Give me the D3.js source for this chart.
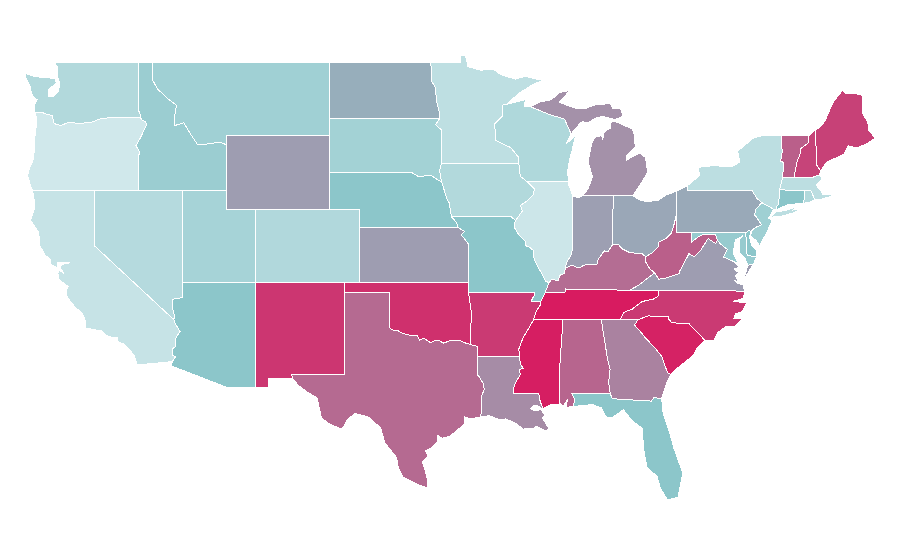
<!DOCTYPE html>
<html><head><meta charset="utf-8"><title>US states choropleth</title>
<script src="https://cdnjs.cloudflare.com/ajax/libs/d3/7.8.5/d3.min.js"></script>
<style>html,body{margin:0;padding:0;background:#fff}svg{display:block}</style></head>
<body><svg id="map" width="900" height="560"></svg>
<script>
// Estimated state values read from the fill colours
const stateNames = ["OR","IL","CA","MN","NY","MA","NV","WA","IA","RI","CO","WI","UT","SD","MT","NJ","ID","MD","AZ","NE","MO","FL","CT","DE","ND","PA","OH","IN","WY","KS","VA","MI","LA","GA","KY","TX","AL","WV","VT","NH","ME","AR","NC","NM","OK","SC","MS","TN"];
const stateValues = [0,3,7,13,15,15,20,22,22,22,23,24,31,33,35,36,39,42,50,50,50,50,50,50,57,58.5,59,61.5,62,62,62,65.5,67,70,76,77,78.5,80,80,88,89,91,91,92,94,98,99,100];
const colorDomain = [0,50,100];
const colorRange = ["#d0e8eb","#8cc6ca","#d81b60"];
const lonDomain = [-124.73,-66.97];
const latDomain = [49,25.12];

// Shared boundary lines, lon,lat
const B = {
wa_can:"-122.76,49 -117.04,49",
wa_id:"-117.04,49 -117.04,46.42 -116.92,46.17 -116.92,46",
wa_coast:"-122.76,49 -122.5,48.7 -122.55,48.4 -122.5,48.15 -122.35,47.75 -122.5,47.37 -122.85,47.1 -123.15,47.1 -123.15,47.5 -122.6,47.85 -122.7,48.1 -123.2,48.15 -124.05,48.2 -124.72,48.38 -124.64,48.05 -124.4,47.75 -124.3,47.35 -124.15,47.1 -123.9,46.95 -124.07,46.7 -124.05,46.27",
wa_or:"-124.05,46.27 -123.55,46.26 -123.4,46.2 -123.2,46.15 -122.9,46.1 -122.8,45.85 -122.75,45.65 -122.3,45.55 -121.9,45.68 -121.5,45.72 -121.2,45.65 -120.9,45.65 -120.5,45.72 -120.2,45.73 -119.6,45.92 -119.3,45.93 -119,46 -116.92,46",
or_id:"-116.92,46 -116.78,45.85 -116.55,45.75 -116.46,45.6 -116.68,45.24 -116.85,44.95 -117.2,44.45 -117.03,44.25 -116.95,44.1 -117.03,43.83 -117.03,42",
or_coast:"-124.05,46.27 -123.95,46 -123.97,45.5 -124.05,45 -124.07,44.6 -124.12,44 -124.2,43.6 -124.4,43.3 -124.55,42.84 -124.4,42.4 -124.22,42",
or_ca:"-124.22,42 -120,42",
or_nv:"-120,42 -117.03,42",
ca_coast:"-124.22,42 -124.1,41.5 -124.07,41.1 -124.35,40.4 -124.1,40.1 -123.8,39.75 -123.72,39 -123.35,38.5 -122.98,38.25 -123,38 -122.5,37.82 -122.5,38.12 -122,38.12 -121.7,38.08 -122.2,38 -122.35,37.85 -122.1,37.5 -122.4,37.7 -122.5,37.5 -122.4,37.15 -122.05,36.95 -121.8,36.8 -121.95,36.55 -121.85,36.2 -121.3,35.65 -120.85,35.35 -120.63,34.95 -120.62,34.55 -120.15,34.47 -119.5,34.38 -119.2,34.15 -118.8,34.02 -118.45,34 -118.4,33.75 -118.1,33.72 -117.85,33.55 -117.3,33.05 -117.13,32.53",
ca_nv:"-120,42 -120,39 -114.63,35",
nv_az:"-114.63,35 -114.57,35.2 -114.68,35.5 -114.72,36 -114.74,36.1 -114.4,36.15 -114.05,36.2 -114.05,37",
ca_az:"-114.63,35 -114.57,34.85 -114.2,34.35 -114.43,34.1 -114.53,33.9 -114.5,33.55 -114.72,33.4 -114.7,33.05 -114.5,33 -114.72,32.72",
ca_mex:"-114.72,32.72 -117.13,32.53",
id_can:"-117.04,49 -116.05,49",
id_mt:"-116.05,49 -116.05,48 -115.75,47.55 -115.1,47.05 -114.45,46.65 -114.6,45.9 -114.55,45.55 -113.95,45.7 -113.5,45.1 -113,44.5 -112.3,44.55 -111.5,44.65 -111.05,44.5",
id_wy:"-111.05,44.5 -111.05,42",
id_nv:"-117.03,42 -114.05,42",
id_ut:"-114.05,42 -111.05,42",
nv_ut:"-114.05,37 -114.05,42",
ut_wy:"-111.05,42 -111.05,41 -109.05,41",
ut_co:"-109.05,41 -109.05,37",
az_ut:"-114.05,37 -109.05,37",
az_nm:"-109.05,37 -109.05,31.33",
az_mex:"-114.72,32.72 -114.81,32.49 -111.07,31.33 -109.05,31.33",
mt_can:"-116.05,49 -104.05,49",
mt_wy:"-111.05,44.5 -111.05,45 -104.05,45",
mt_nd:"-104.05,49 -104.05,45.94",
mt_sd:"-104.05,45.94 -104.05,45",
wy_sd:"-104.05,45 -104.05,43",
wy_ne:"-104.05,43 -104.05,41",
wy_co:"-109.05,41 -104.05,41",
co_ne:"-104.05,41 -102.05,41 -102.05,40",
co_ks:"-102.05,40 -102.05,37",
co_ok:"-102.05,37 -103,37",
co_nm:"-103,37 -109.05,37",
nm_mex:"-109.05,31.33 -108.21,31.33 -108.21,31.78 -106.53,31.78",
nm_tx:"-106.53,31.78 -106.62,32 -103.06,32 -103.04,36.5",
nm_ok:"-103.04,36.5 -103,37",
ok_tx:"-103.04,36.5 -100,36.5 -100,34.56 -99.7,34.4 -99.4,34.4 -99.2,34.3 -98.9,34.2 -98.6,34.15 -98.1,34.13 -97.95,33.88 -97.65,33.98 -97.2,33.75 -96.9,33.85 -96.6,33.85 -96.3,33.72 -95.9,33.85 -95.5,33.88 -95.2,33.87 -94.9,33.75 -94.48,33.64",
tx_ar:"-94.48,33.64 -94.04,33.55 -94.04,33.02",
tx_la:"-94.04,33.02 -94.04,32 -93.9,31.9 -93.6,31.5 -93.55,31.2 -93.7,30.9 -93.75,30.4 -93.7,30.1 -93.83,29.7",
tx_coast:"-93.83,29.7 -94.5,29.6 -94.9,29.72 -94.85,29.35 -95.3,29.05 -95.9,28.65 -96.4,28.55 -96.7,28.7 -96.75,28.35 -97.2,28 -97.55,27.85 -97.35,27.6 -97.75,27.25 -97.6,26.9 -97.44,26.45 -97.37,25.85",
rio:"-97.37,25.85 -98.1,26.05 -99.06,26.45 -99.4,27 -99.5,27.5 -100.3,28.3 -100.6,29.15 -101,29.4 -101.4,29.7 -102.3,29.9 -102.8,29.6 -103.2,29.05 -104,29.3 -104.6,29.65 -104.9,30.75 -105.6,31.08 -106.2,31.45 -106.53,31.78",
ok_ar:"-94.48,33.64 -94.43,35.4 -94.62,36.5",
ok_mo:"-94.62,36.5 -94.62,37",
ok_ks:"-94.62,37 -102.05,37",
ne_ks:"-102.05,40 -95.31,40",
ks_mo:"-95.31,40 -94.9,39.8 -95.1,39.6 -94.9,39.4 -94.62,39.1 -94.62,37",
ne_mo:"-95.31,40 -95.45,40.3 -95.77,40.58",
ne_sd:"-96.45,42.5 -96.7,42.6 -97.2,42.85 -98,42.77 -98.5,43 -104.05,43",
ne_ia:"-96.45,42.5 -96.25,42 -96.1,41.6 -95.9,41.3 -95.85,40.9 -95.77,40.58",
nd_can:"-104.05,49 -97.23,49",
nd_mn:"-97.23,49 -97.1,48.6 -97.15,48 -96.85,47.6 -96.8,46.9 -96.6,46.3 -96.56,45.94",
nd_sd:"-104.05,45.94 -96.56,45.94",
sd_mn:"-96.56,45.94 -96.85,45.6 -96.45,45.3 -96.45,43.5",
sd_ia:"-96.45,43.5 -96.58,43.1 -96.45,42.5",
ia_mn:"-91.2,43.5 -96.45,43.5",
ia_mo:"-95.77,40.58 -91.73,40.6 -91.42,40.38",
ia_il:"-90.64,42.5 -90.15,42.1 -90.2,41.8 -90.65,41.45 -91.1,41.2 -90.95,40.9 -91.1,40.75 -91.42,40.38",
wi_ia:"-90.64,42.5 -91.05,42.75 -91.15,43 -91.2,43.5",
wi_mn:"-91.2,43.5 -91.25,43.85 -91.75,44.35 -92.3,44.55 -92.8,44.75 -92.75,45.1 -92.88,45.6 -92.3,46.08 -92.3,46.66 -92.02,46.7",
mn_can:"-97.23,49 -95.15,49 -95.15,49.38 -94.82,49.32 -94.65,48.75 -93.8,48.55 -92.95,48.62 -92.4,48.3 -91.4,48.07 -90.8,48.22 -89.6,48",
mn_sup:"-89.6,48 -90.3,47.75 -91.2,47.3 -92.02,46.7",
wi_sup:"-92.02,46.7 -91.2,46.87 -90.75,46.95 -90.85,46.6 -90.42,46.57",
wi_mi:"-90.42,46.57 -89.1,46.14 -88.1,45.9 -87.8,45.35 -87.65,45.1",
wi_lake:"-87.65,45.1 -88,44.55 -87.55,44.85 -87.05,45.3 -87.4,44.85 -87.55,44.3 -87.75,43.7 -87.9,43 -87.8,42.5",
wi_il:"-87.8,42.5 -90.64,42.5",
il_lake:"-87.53,41.72 -87.6,41.85 -87.8,42.3 -87.8,42.5",
mo_il:"-91.42,40.38 -91.5,40.2 -91.5,40 -91.2,39.6 -90.75,39.25 -90.7,38.95 -90.5,38.95 -90.2,38.75 -90.2,38.4 -90,38 -89.5,37.3 -89.4,37.1 -89.15,37",
il_ky:"-89.15,37 -88.95,37.2 -88.5,37.1 -88.45,37.4 -88.1,37.5 -88.05,37.8",
il_in:"-88.05,37.8 -87.95,38.1 -87.6,38.6 -87.53,39.3 -87.53,41.72",
in_lake:"-87.53,41.72 -87.2,41.62 -86.82,41.76",
in_mi:"-86.82,41.76 -84.8,41.73",
in_oh:"-84.8,41.73 -84.82,39.1",
in_ky:"-88.05,37.8 -87.6,37.95 -87.1,37.8 -86.8,37.95 -86.5,38 -86.25,38 -85.9,38 -85.8,38.3 -85.4,38.73 -85.15,38.7 -84.82,39.1",
mi_oh:"-84.8,41.73 -83.45,41.73",
lp:"-86.82,41.76 -86.5,42.1 -86.2,42.75 -86.5,43.6 -86.25,44.6 -86.05,44.9 -85.6,45 -85.5,44.8 -85.4,45.2 -85,45.4 -85,45.7 -84.75,45.78 -84.3,45.65 -83.5,45.35 -83.35,45.05 -83.3,44.4 -83.85,43.95 -83.9,43.65 -83.4,43.9 -82.95,44.05 -82.6,43.8 -82.45,43 -82.9,42.4 -83.15,42.1 -83.45,41.73",
up:"-90.42,46.57 -89.8,46.82 -89,46.95 -88.4,47.35 -87.75,47.45 -88.45,46.8 -87.4,46.5 -86.7,46.45 -86.15,46.65 -85,46.75 -84.8,46.45 -84.3,46.5 -84.15,46.1 -84.3,45.98 -84.7,45.87 -85.5,46.05 -86,45.95 -86.5,45.7 -86.9,45.75 -87,45.7 -87.65,45.1",
isle_royale:"-89.2,47.95 -88.5,48.18 -88.7,48.18 -89.2,48",
drummond:"-83.85,46.08 -83.55,46.05 -83.65,45.98",
oh_lake:"-83.45,41.73 -83,41.5 -82.5,41.4 -81.7,41.5 -81.25,41.75 -80.52,41.98",
oh_pa:"-80.52,41.98 -80.52,40.64",
oh_wv:"-80.52,40.64 -80.65,40.2 -80.85,39.7 -81.2,39.4 -81.75,39.2 -81.75,38.95 -82.2,38.6 -82.6,38.42",
oh_ky:"-84.82,39.1 -84.45,39.1 -84.2,38.85 -83.7,38.65 -83.2,38.6 -82.85,38.6 -82.6,38.42",
ky_wv:"-82.6,38.42 -82.6,38.15 -82.3,37.75 -81.97,37.54",
ky_va:"-81.97,37.54 -82.7,37.1 -83.1,36.85 -83.68,36.6",
ky_tn:"-89.4,36.5 -88.06,36.5 -88.06,36.68 -87.9,36.65 -86.5,36.65 -85.8,36.62 -83.68,36.6",
ky_mo:"-89.4,36.5 -89.15,37",
tn_va:"-83.68,36.6 -81.68,36.59",
tn_nc:"-81.68,36.59 -81.7,36.3 -82.05,36.12 -82.6,36.03 -82.9,35.95 -83.5,35.57 -84.05,35.4 -84.32,34.99",
ga_tn:"-85.6,34.98 -84.32,34.99",
al_tn:"-88.2,35 -85.6,34.98",
ms_tn:"-90.2,35 -88.2,35",
tn_ar:"-90.2,35 -90.05,35.4 -89.7,35.85 -89.7,36",
tn_mo:"-89.7,36 -89.55,36.25 -89.4,36.5",
mo_ar:"-89.7,36 -90.37,36 -90.1,36.4 -90.15,36.5 -94.62,36.5",
ar_la:"-94.04,33.02 -91.15,33",
ar_ms:"-91.15,33 -91.2,33.4 -91.05,33.75 -90.85,34.1 -90.55,34.5 -90.3,34.85 -90.2,35",
la_ms:"-89.55,30.18 -89.75,30.55 -89.85,31 -91.6,31 -91.55,31.3 -91.4,31.6 -91.1,32 -91.15,32.3 -90.9,32.35 -91.1,32.6 -91.15,33",
la_coast:"-93.83,29.7 -93.2,29.78 -92.6,29.58 -92.1,29.6 -91.8,29.5 -91.3,29.3 -90.9,29.05 -90.2,29.1 -90,29.2 -89.4,28.95 -89.15,29.05 -89.4,29.4 -89.6,29.65 -89.4,29.8 -89.7,30.1 -90.1,30.05 -90.4,30.15 -90.15,30.35 -89.85,30.3 -89.7,30.2 -89.55,30.18",
ms_coast:"-88.4,30.37 -89,30.38 -89.55,30.18",
al_ms:"-88.4,30.37 -88.47,31.9 -88.2,35",
al_ga:"-85.6,34.98 -85.18,32.87 -85,32.3 -85.1,31.6 -85,31",
al_fl:"-85,31 -87.6,31 -87.4,30.65 -87.5,30.28",
al_coast:"-87.5,30.28 -88,30.23 -87.9,30.65 -88.15,30.35 -88.4,30.37",
ga_fl:"-85,31 -84.86,30.7 -82.2,30.57 -82.05,30.75 -81.5,30.72",
ga_nc:"-84.32,34.99 -83.11,35",
ga_sc:"-83.11,35 -83.35,34.7 -83.05,34.45 -82.6,34 -82,33.5 -81.5,33 -81.1,32.1 -80.88,32.03",
ga_coast:"-80.88,32.03 -81.15,31.6 -81.3,31.2 -81.5,30.72",
fl_coast:"-87.5,30.28 -86.2,30.38 -85.6,30.2 -85.25,29.68 -84.9,29.65 -84.1,30.1 -83.45,29.45 -82.8,29.1 -82.75,28.1 -82.65,27.6 -82.5,27 -81.8,26.45 -81.6,25.85 -81.1,25.2 -80.4,25.35 -80.06,26.65 -80.7,28.07 -80.95,28.85 -81.4,29.9 -81.5,30.72",
nc_sc:"-83.11,35 -82.4,35.2 -81.05,35.15 -81.05,35.05 -80.8,34.82 -79.67,34.8 -78.55,33.86",
sc_coast:"-80.88,32.03 -80.45,32.35 -79.9,32.7 -79.3,33.1 -79.15,33.4 -78.55,33.86",
nc_coast:"-78.55,33.86 -77.95,33.85 -77.7,34.3 -77.1,34.65 -76.55,34.6 -76,35.05 -76.6,35.05 -76.5,35.3 -76,35.45 -75.75,35.9 -76.6,36 -75.95,36.15 -75.87,36.55",
va_nc:"-81.68,36.59 -75.87,36.55",
va_coast:"-75.87,36.55 -76,36.92 -76.35,36.95 -76.6,37.15 -76.3,37.05 -76.5,37.4 -76.28,37.55 -76.6,37.75 -76.25,37.85 -76.6,38.15 -77,38.3 -77.3,38.4 -77.05,38.82",
va_shore:"-75.95,37.15 -75.6,37.6 -75.25,38.03 -75.65,37.95",
va_md:"-77.72,39.32 -77.5,39.1 -77.05,38.82",
wv_va:"-77.72,39.32 -77.83,39.13 -78.35,39.4 -78.85,38.77 -79.3,38.42 -79.65,38.58 -80.3,37.6 -80.3,37.5 -81.25,37.25 -81.7,37.2 -81.97,37.54",
wv_md:"-79.48,39.72 -79.48,39.2 -79.1,39.45 -78.75,39.6 -78.4,39.62 -77.83,39.6 -77.72,39.32",
pa_wv:"-80.52,40.64 -80.52,39.72 -79.48,39.72",
md_pa:"-79.48,39.72 -75.79,39.72",
md_de:"-75.79,39.72 -75.7,38.46 -75.05,38.45",
md_coast:"-75.05,38.45 -75.25,38.03 -75.65,37.95 -75.85,38.35 -76.2,38.65 -76.25,39.3 -76,39.55 -76.5,39.33 -76.65,38.6 -76.5,38.4 -76.3,38.05 -76.9,38.25 -77.3,38.4 -77.05,38.82",
de_pa:"-75.79,39.72 -75.6,39.83 -75.42,39.8",
de_coast:"-75.42,39.8 -75.55,39.5 -75.4,39.05 -75.1,38.8 -75.05,38.45",
pa_nj:"-75.42,39.8 -75.15,40 -74.72,40.15 -75.05,40.55 -75.2,40.7 -75.1,41 -74.7,41.36",
pa_ny:"-74.7,41.36 -75.05,41.6 -75.35,42 -79.76,42 -79.76,42.27",
pa_lake:"-79.76,42.27 -80.52,41.98",
nj_ny:"-74.7,41.36 -73.9,41",
nj_coast:"-73.9,41 -74.1,40.7 -74.25,40.5 -74,40.4 -74.3,39.85 -74.85,39 -75.1,39.3 -75.45,39.55 -75.42,39.8",
ny_sound:"-73.9,41 -73.65,41",
ct_ny:"-73.5,42.05 -73.55,41.3 -73.73,41.1 -73.65,41",
ma_ny:"-73.27,42.75 -73.5,42.05",
vt_ny:"-73.35,45 -73.4,44.5 -73.3,44.2 -73.43,43.6 -73.25,43.55 -73.27,42.75",
ny_can:"-79.76,42.27 -78.9,42.85 -79.05,43.27 -78,43.37 -76.8,43.3 -76.2,43.55 -76.3,44 -76.35,44.15 -75.3,44.85 -74.7,45 -73.35,45",
long_island:"-74.03,40.6 -73.75,40.85 -73,40.95 -72.3,41.15 -72.6,40.95 -71.9,41.05 -72.5,40.82 -73.3,40.63 -74.03,40.57",
vt_can:"-73.35,45 -71.5,45.01",
vt_nh:"-71.5,45.01 -71.55,44.6 -72.05,44.3 -72.05,44.1 -72.3,43.6 -72.45,43 -72.46,42.73",
vt_ma:"-72.46,42.73 -73.27,42.75",
nh_top:"-71.5,45.01 -71.08,45.3",
nh_me:"-71.08,45.3 -71.03,44.65 -70.98,43.4 -70.7,43.07",
nh_coast:"-70.7,43.07 -70.8,42.87",
nh_ma:"-70.8,42.87 -71.2,42.75 -71.3,42.7 -72.46,42.73",
me:"-71.08,45.3 -70.8,45.42 -70.4,45.8 -70.2,46.2 -69.87,46.8 -69.23,47.46 -69.05,47.3 -68.5,47.3 -67.9,47.2 -67.85,46.2 -67.5,45.7 -67.45,45.3 -67,44.85 -67.6,44.55 -68.2,44.35 -68.7,44.4 -68.85,44.45 -69.1,44 -69.5,43.85 -70.2,43.6 -70.55,43.3 -70.7,43.07",
ma_coast:"-70.8,42.87 -70.6,42.65 -71,42.3 -70.65,41.95 -70.55,41.8 -70,41.78 -70.05,42.05 -69.95,41.7 -70.65,41.55 -71.12,41.5",
ma_ri:"-71.12,41.5 -71.2,41.7 -71.38,42.02 -71.8,42.02",
ma_ct:"-71.8,42.02 -73.5,42.05",
vineyard:"-70.8,41.35 -70.5,41.35 -70.6,41.47",
nantucket:"-70.2,41.3 -69.97,41.25 -70.05,41.32",
ri_coast:"-71.12,41.5 -71.5,41.37 -71.85,41.32",
ct_ri:"-71.85,41.32 -71.8,42.02",
ct_coast:"-71.85,41.32 -72.9,41.25 -73.65,41"
};
// Each state: list of rings, each ring a list of boundary names ("-" = walked backwards)
const R = {
WA:[["wa_can","wa_id","-wa_or","-wa_coast"]],
OR:[["wa_or","or_id","-or_nv","-or_ca","-or_coast"]],
CA:[["or_ca","ca_nv","ca_az","ca_mex","-ca_coast"]],
NV:[["or_nv","id_nv","-nv_ut","-nv_az","-ca_nv"]],
ID:[["id_can","id_mt","id_wy","-id_ut","-id_nv","-or_id","-wa_id"]],
UT:[["id_ut","ut_wy","ut_co","-az_ut","nv_ut"]],
AZ:[["nv_az","az_ut","az_nm","-az_mex","-ca_az"]],
MT:[["mt_can","mt_nd","mt_sd","-mt_wy","-id_mt"]],
WY:[["-id_wy","mt_wy","wy_sd","wy_ne","-wy_co","-ut_wy"]],
CO:[["wy_co","co_ne","co_ks","co_ok","co_nm","-ut_co"]],
NM:[["az_nm","nm_mex","nm_tx","nm_ok","co_nm"]],
TX:[["ok_tx","tx_ar","tx_la","tx_coast","rio","nm_tx"]],
OK:[["-nm_ok","ok_tx","ok_ar","ok_mo","ok_ks","co_ok"]],
KS:[["ne_ks","ks_mo","ok_ks","-co_ks"]],
NE:[["-ne_sd","ne_ia","-ne_mo","-ne_ks","-co_ne","-wy_ne"]],
ND:[["nd_can","nd_mn","-nd_sd","-mt_nd"]],
SD:[["nd_sd","sd_mn","sd_ia","ne_sd","-wy_sd","-mt_sd"]],
IA:[["ia_mn","sd_ia","ne_ia","ia_mo","-ia_il","wi_ia"]],
MN:[["mn_can","mn_sup","-wi_mn","ia_mn","-sd_mn","-nd_mn"]],
WI:[["wi_mn","wi_sup","wi_mi","wi_lake","wi_il","wi_ia"]],
IL:[["il_lake","wi_il","ia_il","mo_il","il_ky","il_in"]],
IN:[["in_lake","in_mi","in_oh","-in_ky","il_in"]],
OH:[["mi_oh","oh_lake","oh_pa","oh_wv","-oh_ky","-in_oh"]],
MI:[["lp","-mi_oh","-in_mi"],["-wi_mi","up"],["isle_royale"],["drummond"]],
KY:[["in_ky","oh_ky","ky_wv","ky_va","-ky_tn","ky_mo","il_ky"]],
TN:[["ky_tn","tn_va","tn_nc","-ga_tn","-al_tn","-ms_tn","tn_ar","tn_mo"]],
MS:[["ms_tn","-al_ms","ms_coast","la_ms","ar_ms"]],
AR:[["mo_ar","-ok_ar","tx_ar","ar_la","ar_ms","tn_ar"]],
LA:[["ar_la","-la_ms","-la_coast","-tx_la"]],
MO:[["ia_mo","mo_il","-ky_mo","-tn_mo","mo_ar","ok_mo","-ks_mo","ne_mo"]],
AL:[["al_tn","al_ga","al_fl","al_coast","al_ms"]],
GA:[["ga_tn","ga_nc","ga_sc","ga_coast","-ga_fl","-al_ga"]],
FL:[["al_fl","fl_coast","-ga_fl"]],
SC:[["nc_sc","-sc_coast","-ga_sc"]],
NC:[["va_nc","-nc_coast","-nc_sc","-ga_nc","-tn_nc"]],
VA:[["-ky_va","-wv_va","va_md","-va_coast","-va_nc","-tn_va"],["va_shore"]],
WV:[["-oh_wv","pa_wv","wv_md","wv_va","-ky_wv"]],
MD:[["md_pa","md_de","md_coast","-va_md","-wv_md"]],
DE:[["de_pa","de_coast","-md_de"]],
PA:[["oh_pa","pa_wv","md_pa","de_pa","pa_nj","pa_ny","pa_lake"]],
NJ:[["nj_ny","nj_coast","pa_nj"]],
NY:[["-pa_ny","nj_ny","ny_sound","-ct_ny","-ma_ny","-vt_ny","-ny_can"],["long_island"]],
VT:[["vt_can","vt_nh","vt_ma","-vt_ny"]],
NH:[["nh_top","nh_me","nh_coast","nh_ma","-vt_nh"]],
ME:[["me","-nh_me"]],
MA:[["-vt_ma","-nh_ma","ma_coast","ma_ri","ma_ct","-ma_ny"],["vineyard"],["nantucket"]],
RI:[["-ma_ri","ri_coast","ct_ri"]],
CT:[["-ma_ct","-ct_ri","ct_coast","-ct_ny"]]
};

const parse = s => s.trim().split(/\s+/).map(p => p.split(",").map(Number));
const ringOf = names => {
  const pts = names.flatMap(n => {
    const rev = n[0] === "-";
    const line = parse(B[rev ? n.slice(1) : n]);
    return rev ? line.reverse() : line;
  });
  pts.push(pts[0]);
  return pts;
};
const features = stateNames.map((id, i) => ({
  type:"Feature", id, properties:{value:stateValues[i]},
  geometry:{type:"MultiPolygon", coordinates:R[id].map(r => [ringOf(r)])}
}));

const x = d3.scaleLinear().domain(lonDomain).range([25,875.7]);
const y = d3.scaleLinear().domain(latDomain).range([62,501.4]);
const projection = d3.geoTransform({point(lon,lat){ this.stream.point(x(lon), y(lat)); }});
const path = d3.geoPath(projection);
const color = d3.scaleLinear().domain(colorDomain).range(colorRange).interpolate(d3.interpolateRgb);

d3.select("#map").selectAll("path").data(features).join("path")
  .attr("d", path)
  .attr("fill", d => color(d.properties.value))
  .attr("stroke", "#fff")
  .attr("stroke-width", 1)
  .attr("stroke-linejoin", "round")
  .attr("shape-rendering", "crispEdges");
</script></body></html>
